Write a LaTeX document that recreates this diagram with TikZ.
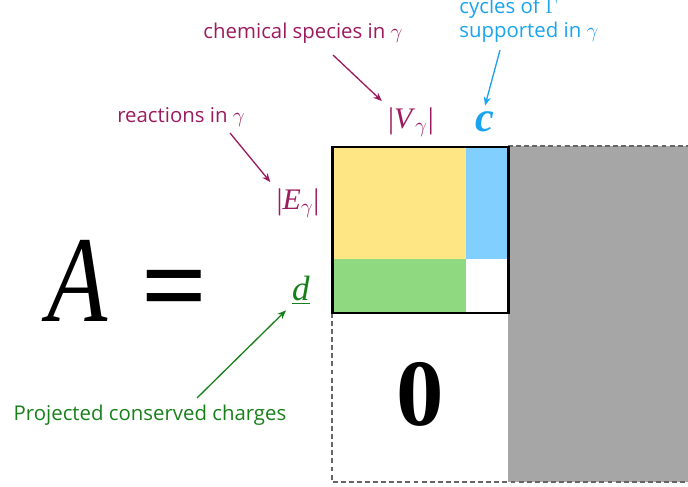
\documentclass[tikz,border=0pt]{standalone}
\usepackage{fontspec}
\setmainfont{Liberation Serif}
\newfontfamily\labfont{Open Sans}
\usetikzlibrary{arrows.meta}

\definecolor{reactcol}{HTML}{9C1B5E}
\definecolor{cyclecol}{HTML}{1AA3EE}
\definecolor{chargecol}{HTML}{17801A}
\definecolor{blockyellow}{HTML}{FDE683}
\definecolor{blockblue}{HTML}{80CFFE}
\definecolor{blockgreen}{HTML}{8FD980}
\definecolor{blockgray}{HTML}{A6A6A6}

\begin{document}
\begin{tikzpicture}[
	x=0.02cm, y=-0.02cm,
	lab/.style = {font=\labfont\fontsize{11.6}{13.6}\selectfont},
	sym/.style = {font=\fontsize{17}{17}\selectfont, text=reactcol},
	arr/.style = {-{Stealth[length=5pt, width=4pt]}, line width=0.75pt},
	zero/.style = {dashed, dash pattern=on 2.8pt off 1.8pt, line width=0.9pt, draw=black!60}
	]
	\useasboundingbox (0,0) rectangle (688,486);
	
	% === === === Blocks === === ===
	\fill[blockgray]	(508,146) rectangle (688,482);
	\draw[zero]	(332,313) -- (332,482) -- (688,482);
	\draw[zero]	(508,146) -- (688,146);
	\fill[blockyellow]	(332,147) rectangle (466,259);
	\fill[blockblue]	(466,147) rectangle (508,259);
	\fill[blockgreen]	(332,259) rectangle (466,313);
	\draw[line width=1.7pt]	(332,147) rectangle (508,313);
	
	% === === === Nodes === === ===
	\node[font=\fontsize{70}{70}\selectfont]	(A)	at	(78,281)	{\scalebox{0.8}[1]{\textit{A}}};
	\node[font=\fontsize{66}{66}\selectfont\bfseries]	(eq)	at	(175,297)	{=};
	\node[font=\fontsize{54}{54}\selectfont\bfseries]	(zero)	at	(420,394)	{0};
	
	\node[sym]	(E)	at	(298,203)	{|\textit{E}$_{\gamma}$|};
	\node[sym]	(V)	at	(411,122)	{|\textit{V}$_{\gamma}$|};
	\node[font=\fontsize{24}{24}\selectfont\bfseries\itshape, text=cyclecol]	(c)	at	(485,122)	{c};
	\node[font=\fontsize{20}{20}\selectfont\itshape, text=chargecol]	(d)	at	(301,290)	{\underline{d}};
	
	\node[lab, text=reactcol]	(react)	at	(181,117)	{reactions in $\gamma$};
	\node[lab, text=reactcol]	(species)	at	(303,33)	{chemical species in $\gamma$};
	\node[lab, text=cyclecol, align=left, anchor=west, inner sep=0pt]	(cycles)	at	(459,20)	{cycles of $\Gamma$\\supported in $\gamma$};
	\node[lab, text=chargecol]	(charges)	at	(150,415)	{Projected conserved charges};
	
	\coordinate	(react-tail)	at	(230,133);
	\coordinate	(species-tail)	at	(333,55);
	\coordinate	(cycles-tail)	at	(500,50);
	\coordinate	(charges-tail)	at	(197,398);
	
	% === === === Lines === === ===
	\draw[arr, reactcol]	(react-tail) to (E.north west);
	\draw[arr, reactcol]	(species-tail) to (V.north west);
	\draw[arr, cyclecol]	(cycles-tail) to (c.north);
	\draw[arr, chargecol]	(charges-tail) to (d.south west);
	
\end{tikzpicture}
\end{document}
